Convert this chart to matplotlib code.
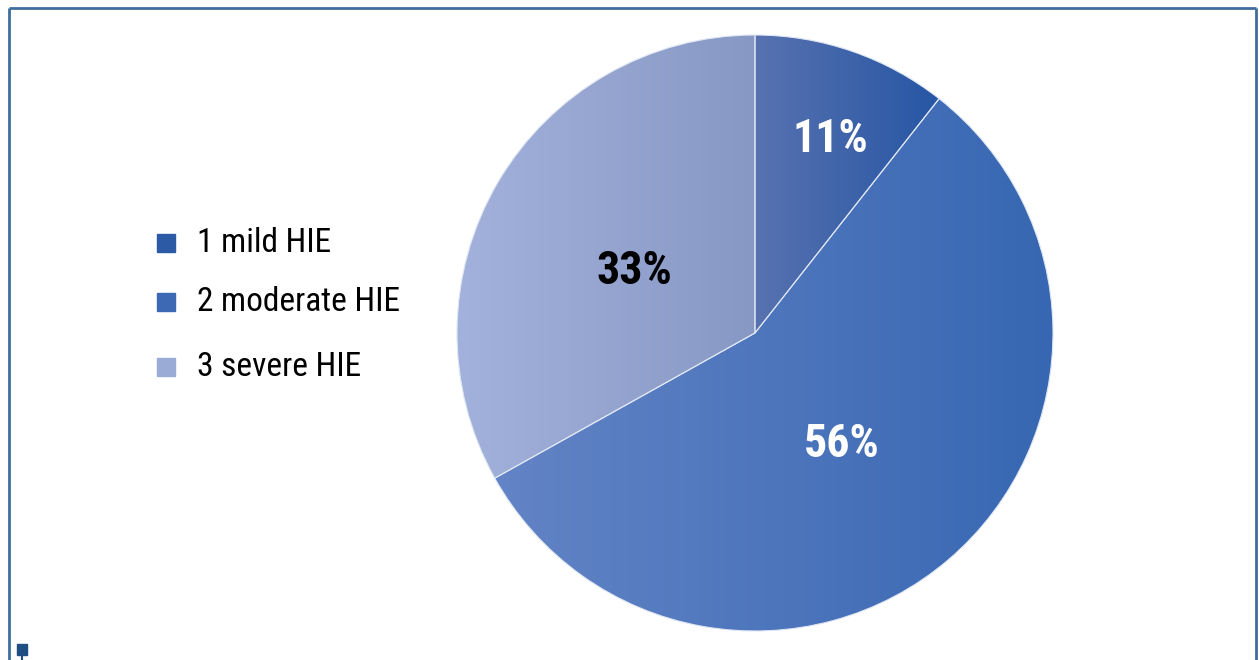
import numpy as np
import matplotlib
matplotlib.use("Agg")
import matplotlib.pyplot as plt
from matplotlib import font_manager
from matplotlib.colors import LinearSegmentedColormap

# data (share of cases, %)
labels = ["1 mild HIE", "2 moderate HIE", "3 severe HIE"]
shares = [10.6, 56.3, 33.1]
pct_text = ["11%", "56%", "33%"]
pct_color = ["white", "white", "black"]

# gradient colours (left -> right) for each slice
grad = [("#5872b0", "#2656a4"),
        ("#6384c6", "#3767b2"),
        ("#a3b2dc", "#8798c4")]
legend_col = ["#2c5aa5", "#3d69b4", "#9aabd6"]

# pick a narrow font if one is there
names = {f.name for f in font_manager.fontManager.ttflist}
narrow = [n for n in ["Liberation Sans Narrow", "Roboto Condensed",
                      "Open Sans Condensed", "Noto Sans Condensed"] if n in names]
base = narrow[0] if narrow else "Roboto"
plt.rcParams['font.family'] = [base, 'DejaVu Sans']

W, H = 1259, 660
fig = plt.figure(figsize=(W / 100, H / 100), dpi=100)
ax = fig.add_axes([0, 0, 1, 1])

cx, cy, r = 755, H - 333, 298
wedges, _ = ax.pie(shares, startangle=90, counterclock=False,
                   center=(cx, cy), radius=r, frame=True,
                   wedgeprops=dict(edgecolor="#dfe6f3", linewidth=0.8))

ramp = np.linspace(0, 1, 256).reshape(1, -1)
for w, (c0, c1) in zip(wedges, grad):
    bb = w.get_path().get_extents()
    cmap = LinearSegmentedColormap.from_list("g", [c0, c1])
    im = ax.imshow(ramp, cmap=cmap, aspect="auto",
                   extent=(bb.x0, bb.x1, bb.y0, bb.y1), zorder=1)
    im.set_clip_path(w)
    w.set_facecolor("none")
    w.set_zorder(2)

fs_pct = 33 if narrow else 27
fs_leg = 24 if narrow else 20

# percentage labels
pos = [(830, 139), (842, 444), (634, 271)]
for (x, y), t, c in zip(pos, pct_text, pct_color):
    ax.text(x, H - y, t, color=c, fontsize=fs_pct, fontweight="bold",
            ha="center", va="center", zorder=3)

# legend
ly = [243, 302, 367]
for y, lab, c in zip(ly, labels, legend_col):
    ax.add_patch(plt.Rectangle((157, H - y - 9), 18, 18, color=c))
    ax.text(197, H - y, lab, fontsize=fs_leg, va="center", ha="left", color="black")

# frame (open at the bottom)
fc = "#3f6d9c"
ax.plot([9, 9], [0, H - 8], color=fc, lw=2, solid_capstyle="butt")
ax.plot([9, 1256], [H - 8, H - 8], color=fc, lw=2, solid_capstyle="butt")
ax.plot([1256, 1256], [H - 8, 0], color=fc, lw=2, solid_capstyle="butt")
ax.add_patch(plt.Rectangle((17, H - 655), 10, 11, color="#1f4e82"))
ax.plot([22, 22], [0, H - 655], color="#1f4e82", lw=1.5)

ax.set_xlim(0, W)
ax.set_ylim(0, H)
ax.set_aspect("equal")
ax.axis("off")

fig.savefig("out.png", dpi=100)
